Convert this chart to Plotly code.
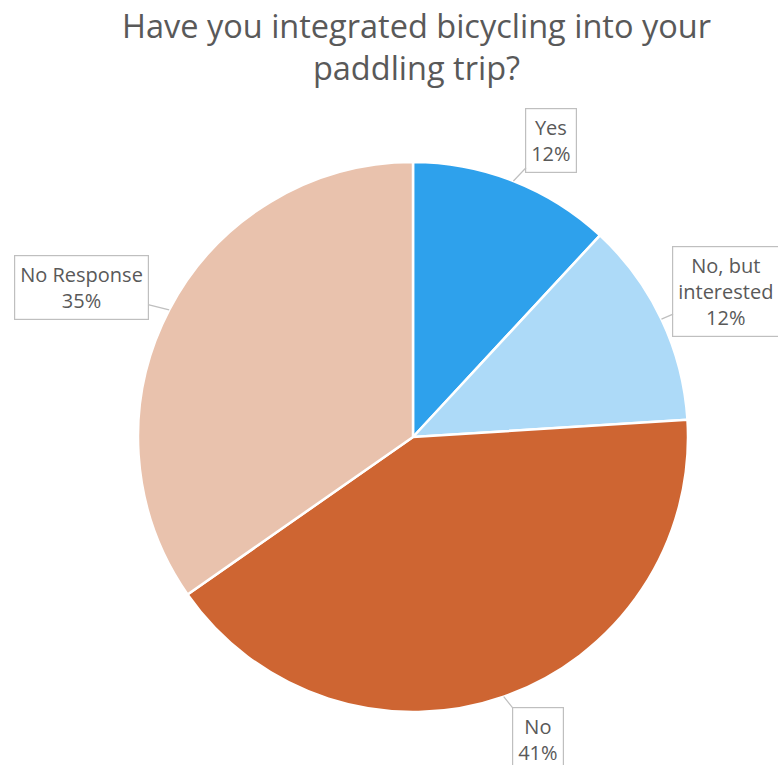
import math
import plotly.graph_objects as go

categories = ["Yes", "No, but interested", "No", "No Response"]
values = [11.9, 12.1, 41.3, 34.7]
label_text = ["Yes", "No, but<br>interested", "No", "No Response"]
colors = ["#2EA1EC", "#ADDAF8", "#CE6532", "#E9C2AD"]

W, H = 778, 765
cx, cy, r = 413, 437, 275  # pie centre/radius in pixels (layout)

fig = go.Figure(go.Pie(
    labels=categories, values=values, sort=False, direction="clockwise",
    rotation=0, marker=dict(colors=colors, line=dict(color="white", width=2.5)),
    textinfo="none", hoverinfo="label+percent", showlegend=False,
    domain=dict(x=[(cx - r) / W, (cx + r) / W],
                y=[(H - cy - r) / H, (H - cy + r) / H]),
))

# callout box offsets (pixels) relative to slice edge point
offsets = [(38, -40), (65, -28), (34, 43), (-88, -22)]

total = sum(values)
cum = 0
annotations = []
for lab, v, (ax, ay) in zip(label_text, values, offsets):
    mid = (cum + v / 2) / total * 2 * math.pi
    cum += v
    px = cx + r * math.sin(mid)
    py = cy - r * math.cos(mid)
    pct = round(v / total * 100)
    annotations.append(dict(
        x=px / W, y=(H - py) / H, xref="paper", yref="paper",
        text=f"{lab}<br>{pct}%", showarrow=True, arrowhead=0, arrowwidth=1.2,
        arrowcolor="#BFBFBF", ax=ax, ay=ay, bordercolor="#BFBFBF",
        borderwidth=1.2, borderpad=5, bgcolor="white",
        font=dict(family="Open Sans, sans-serif", size=20, color="#595959"),
        align="center",
    ))

annotations.append(dict(
    text="Have you integrated bicycling into your<br>paddling trip?",
    x=0.535, y=1, xref="paper", yref="paper", xanchor="center", yanchor="top",
    yshift=-1, showarrow=False,
    font=dict(family="Open Sans, sans-serif", size=32.5, color="#595959"),
))

fig.update_layout(
    width=W, height=H, margin=dict(l=0, r=0, t=0, b=0),
    paper_bgcolor="white", plot_bgcolor="white",
    annotations=annotations,
)

fig.write_html("out.html", config={"displayModeBar": False},
               post_script="document.body.style.margin='0';")
